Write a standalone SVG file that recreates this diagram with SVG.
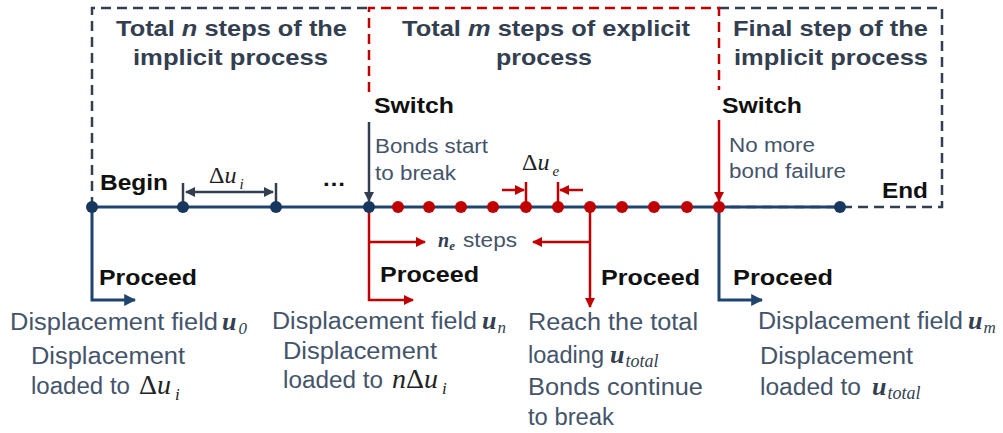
<svg xmlns="http://www.w3.org/2000/svg" width="1003" height="433" viewBox="0 0 1003 433">
<style>
.title{font-family:"Liberation Sans",Arial,sans-serif;font-weight:bold;font-size:22px;fill:#333F50}
.bold{font-family:"Liberation Sans",Arial,sans-serif;font-weight:bold;font-size:22px;fill:#111}
.note{font-family:"Liberation Sans",Arial,sans-serif;font-size:20px;fill:#44546A}
.body{font-family:"Liberation Sans",Arial,sans-serif;font-size:23px;fill:#44546A}
.math{font-family:"Liberation Serif","Times New Roman",serif;fill:#222}
.mb{font-family:"Liberation Serif","Times New Roman",serif;font-weight:bold;font-style:italic;fill:#333F50}
.mi{font-family:"Liberation Serif","Times New Roman",serif;font-weight:normal;font-style:italic;fill:#333F50}
.gbox{fill:none;stroke:#333F50;stroke-width:2.5;stroke-dasharray:10 6}
.rbox{fill:none;stroke:#C00000;stroke-width:2.5;stroke-dasharray:10 6}
.nav{fill:none;stroke:#1F4470;stroke-width:3}
.red{fill:none;stroke:#C00000;stroke-width:2.5}
.gray{fill:none;stroke:#333F50;stroke-width:2.5}
.bdot{fill:#17375E}
.rdot{fill:#C00000}
</style>
<defs>
<marker id="aN" viewBox="0 0 10 10" refX="9" refY="5" markerWidth="4" markerHeight="4" orient="auto-start-reverse"><path d="M0,0 L10,5 L0,10 z" fill="#1F4470"/></marker>
<marker id="aR" viewBox="0 0 10 10" refX="9" refY="5" markerWidth="4" markerHeight="4" orient="auto-start-reverse"><path d="M0,0 L10,5 L0,10 z" fill="#C00000"/></marker>
<marker id="aG" viewBox="0 0 10 10" refX="9" refY="5" markerWidth="4" markerHeight="4" orient="auto-start-reverse"><path d="M0,0 L10,5 L0,10 z" fill="#333F50"/></marker>
</defs>

<!-- boxes -->
<g id="box-implicit">
<path class="gbox" d="M92,207 V8 H369"/>
<text class="title" x="116" y="36" textLength="231" lengthAdjust="spacingAndGlyphs">Total <tspan font-style="italic">n</tspan> steps of the</text>
<text class="title" x="133" y="65" textLength="195" lengthAdjust="spacingAndGlyphs">implicit process</text>
</g>
<g id="box-final">
<path class="gbox" d="M719,8 H942 V207 H719"/>
<text class="title" x="733" y="36" textLength="195" lengthAdjust="spacingAndGlyphs">Final step of the</text>
<text class="title" x="734" y="65" textLength="194" lengthAdjust="spacingAndGlyphs">implicit process</text>
</g>
<g id="box-explicit">
<path class="rbox" d="M369,92 V8 H719 V90"/>
<text class="title" x="402" y="36" textLength="288" lengthAdjust="spacingAndGlyphs">Total <tspan font-style="italic">m</tspan> steps of explicit</text>
<text class="title" x="496" y="65" textLength="96" lengthAdjust="spacingAndGlyphs">process</text>
</g>

<!-- connectors -->
<g id="connectors">
<line class="nav" x1="92" y1="207" x2="840" y2="207"/>
<line class="gray" x1="369" y1="122" x2="369" y2="201" marker-end="url(#aG)"/>
<line class="red" x1="719" y1="120" x2="719" y2="201" marker-end="url(#aR)"/>
<!-- delta u_i -->
<line class="gray" x1="183" y1="183" x2="183" y2="207"/>
<line class="gray" x1="276" y1="183" x2="276" y2="207"/>
<line class="gray" x1="186" y1="192" x2="273" y2="192" marker-start="url(#aG)" marker-end="url(#aG)"/>
<!-- delta u_e -->
<line class="red" x1="526" y1="182" x2="526" y2="207"/>
<line class="red" x1="558" y1="182" x2="558" y2="207"/>
<line class="red" x1="502" y1="190" x2="524" y2="190" marker-end="url(#aR)"/>
<line class="red" x1="583" y1="190" x2="560" y2="190" marker-end="url(#aR)"/>
<!-- proceed arrows -->
<path class="nav" d="M92,207 V300 H135" marker-end="url(#aN)"/>
<path class="red" d="M369,207 V300 H413" marker-end="url(#aR)"/>
<path class="red" d="M369,242 H425" marker-end="url(#aR)"/>
<path class="red" d="M590,207 V307" marker-end="url(#aR)"/>
<path class="red" d="M590,242 H533" marker-end="url(#aR)"/>
<path class="nav" d="M719,207 V300 H762" marker-end="url(#aN)"/>
</g>

<!-- nodes on timeline -->
<g id="node-begin">
<circle class="bdot" cx="92" cy="207" r="6"/>
<text class="bold" x="100" y="190" textLength="68" lengthAdjust="spacingAndGlyphs">Begin</text>
</g>
<g id="node-implicit-steps">
<circle class="bdot" cx="183" cy="207" r="6"/>
<circle class="bdot" cx="276" cy="207" r="6"/>
<text class="math" x="209" y="183" font-size="24" fill="#333F50">Δ<tspan font-style="italic">u</tspan><tspan font-style="italic" font-size="15" dx="3" dy="6">i</tspan></text>
<text class="bold" x="322" y="186" fill="#333F50" textLength="24" lengthAdjust="spacingAndGlyphs">…</text>
</g>
<g id="node-switch1">
<circle class="bdot" cx="369" cy="207" r="6"/>
<text class="bold" x="374" y="113" textLength="80" lengthAdjust="spacingAndGlyphs">Switch</text>
<text class="note" x="375" y="153" textLength="113" lengthAdjust="spacingAndGlyphs">Bonds start</text>
<text class="note" x="375" y="180" textLength="81" lengthAdjust="spacingAndGlyphs">to break</text>
</g>
<g id="node-explicit-steps">
<circle class="rdot" cx="398" cy="207" r="6"/>
<circle class="rdot" cx="429" cy="207" r="6"/>
<circle class="rdot" cx="461" cy="207" r="6"/>
<circle class="rdot" cx="493" cy="207" r="6"/>
<circle class="rdot" cx="526" cy="207" r="6"/>
<circle class="rdot" cx="558" cy="207" r="6"/>
<circle class="rdot" cx="590" cy="207" r="6"/>
<circle class="rdot" cx="622" cy="207" r="6"/>
<circle class="rdot" cx="654" cy="207" r="6"/>
<circle class="rdot" cx="687" cy="207" r="6"/>
<text class="math" x="522" y="170" font-size="24" fill="#333F50">Δ<tspan font-style="italic">u</tspan><tspan font-style="italic" font-size="15" dx="3" dy="6">e</tspan></text>
<text class="mb" x="438" y="247" font-size="20">n<tspan font-size="13" dy="3">e</tspan></text>
<text class="note" x="463" y="247" textLength="54" lengthAdjust="spacingAndGlyphs">steps</text>
</g>
<g id="node-switch2">
<circle class="rdot" cx="719" cy="207" r="6"/>
<text class="bold" x="722" y="113" textLength="80" lengthAdjust="spacingAndGlyphs">Switch</text>
<text class="note" x="729" y="152" textLength="86" lengthAdjust="spacingAndGlyphs">No more</text>
<text class="note" x="729" y="178" textLength="117" lengthAdjust="spacingAndGlyphs">bond failure</text>
</g>
<g id="node-end">
<circle class="bdot" cx="840" cy="207" r="6"/>
<text class="bold" x="882" y="198" textLength="46" lengthAdjust="spacingAndGlyphs">End</text>
</g>

<!-- outputs -->
<g id="out-begin">
<text class="bold" x="99" y="285" textLength="98" lengthAdjust="spacingAndGlyphs">Proceed</text>
<text class="body" x="10" y="330" textLength="208" lengthAdjust="spacingAndGlyphs">Displacement field</text>
<text class="mb" x="222" y="330" font-size="26">u<tspan class="mi" font-size="17" dx="2" dy="4">0</tspan></text>
<text class="body" x="31" y="364" textLength="154" lengthAdjust="spacingAndGlyphs">Displacement</text>
<text class="body" x="31" y="394" textLength="99" lengthAdjust="spacingAndGlyphs">loaded to</text>
<text class="math" x="139" y="394" font-size="28" fill="#333F50">Δ<tspan font-style="italic">u</tspan><tspan font-style="italic" font-size="17" dx="4" dy="6">i</tspan></text>
</g>
<g id="out-switch1">
<text class="bold" x="380" y="282" textLength="99" lengthAdjust="spacingAndGlyphs">Proceed</text>
<text class="body" x="272" y="329" textLength="205" lengthAdjust="spacingAndGlyphs">Displacement field</text>
<text class="mb" x="482" y="329" font-size="26">u<tspan class="mi" font-size="17" dx="1" dy="4">n</tspan></text>
<text class="body" x="283" y="359" textLength="154" lengthAdjust="spacingAndGlyphs">Displacement</text>
<text class="body" x="283" y="388" textLength="100" lengthAdjust="spacingAndGlyphs">loaded to</text>
<text class="math" x="392" y="388" font-size="28" fill="#333F50"><tspan font-style="italic">n</tspan>Δ<tspan font-style="italic">u</tspan><tspan font-style="italic" font-size="17" dx="4" dy="6">i</tspan></text>
</g>
<g id="out-explicit">
<text class="bold" x="601" y="285" textLength="99" lengthAdjust="spacingAndGlyphs">Proceed</text>
<text class="body" x="528" y="330" textLength="170" lengthAdjust="spacingAndGlyphs">Reach the total</text>
<text class="body" x="528" y="363" textLength="76" lengthAdjust="spacingAndGlyphs">loading</text>
<text class="mb" x="610" y="363" font-size="26">u<tspan class="mi" font-size="18" dx="1" dy="4">total</tspan></text>
<text class="body" x="528" y="395" textLength="175" lengthAdjust="spacingAndGlyphs">Bonds continue</text>
<text class="body" x="528" y="425" textLength="86" lengthAdjust="spacingAndGlyphs">to break</text>
</g>
<g id="out-switch2">
<text class="bold" x="733" y="285" textLength="100" lengthAdjust="spacingAndGlyphs">Proceed</text>
<text class="body" x="758" y="329" textLength="205" lengthAdjust="spacingAndGlyphs">Displacement field</text>
<text class="mb" x="968" y="329" font-size="26">u<tspan class="mi" font-size="17" dx="1" dy="4">m</tspan></text>
<text class="body" x="760" y="364" textLength="153" lengthAdjust="spacingAndGlyphs">Displacement</text>
<text class="body" x="760" y="395" textLength="101" lengthAdjust="spacingAndGlyphs">loaded to</text>
<text class="mb" x="872" y="395" font-size="26">u<tspan class="mi" font-size="18" dx="1" dy="4">total</tspan></text>
</g>
</svg>
